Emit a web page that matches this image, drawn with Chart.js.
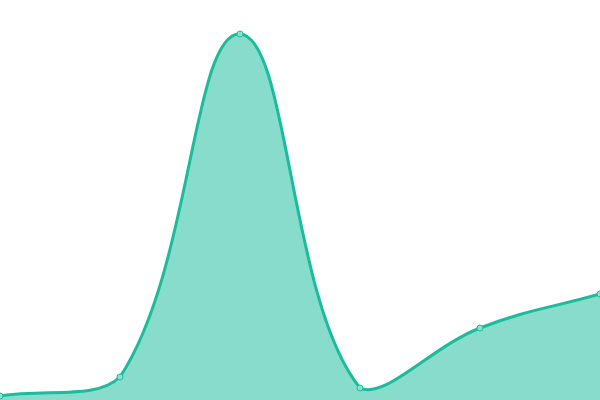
<!DOCTYPE html>
<html><head><meta charset="utf-8">
<script src="https://cdn.jsdelivr.net/npm/chart.js@4"></script>
<style>html,body{margin:0;padding:0;background:#fff}#wrap{width:600px;height:400px}</style>
</head><body><div id="wrap"><canvas id="c"></canvas></div>
<script>
const categories = ["A", "B", "C", "D", "E", "F"];
const seriesValues = [1, 5.75, 91.5, 3, 18, 26.5];
new Chart(document.getElementById('c'), {
  type: 'line',
  data: { labels: categories, datasets: [{
    data: seriesValues,
    borderColor: '#1abc9c',
    backgroundColor: 'rgba(26,188,156,0.52)',
    fill: 'origin',
    tension: 0.4,
    borderWidth: 3,
    pointRadius: 3,
    pointBorderWidth: 1,
    pointBackgroundColor: '#8be0cf',
    pointBorderColor: '#1abc9c'
  }]},
  options: {
    responsive: true, maintainAspectRatio: false, animation: false,
    layout: { padding: 0, autoPadding: false },
    plugins: { legend: { display: false }, tooltip: { enabled: false } },
    scales: {
      x: { display: false, offset: false },
      y: { display: false, min: 0, max: 100 }
    }
  }
});
</script></body></html>
